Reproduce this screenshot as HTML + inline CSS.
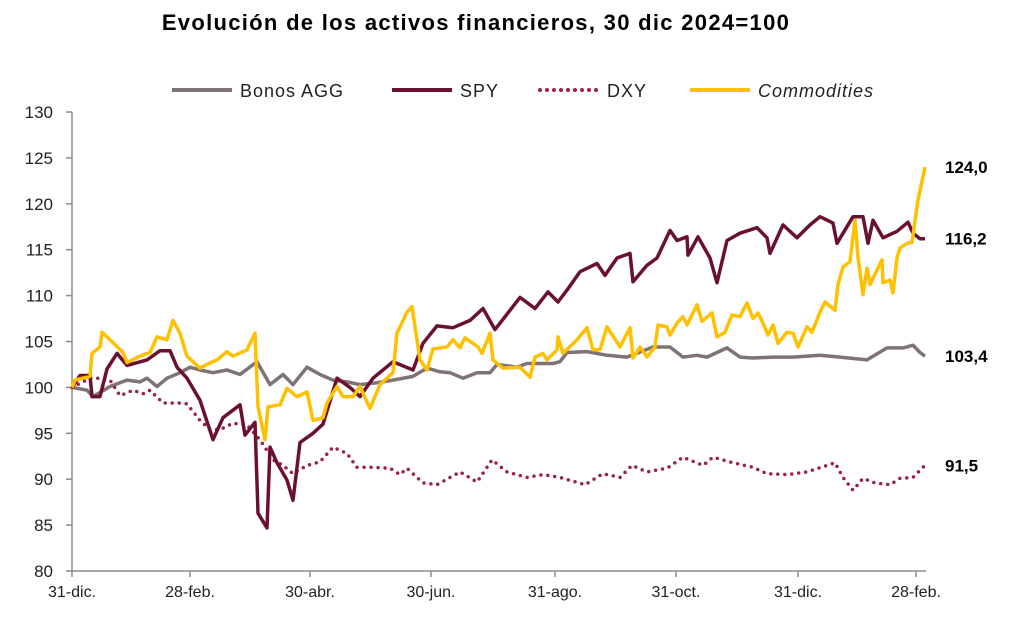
<!DOCTYPE html>
<html>
<head>
<meta charset="utf-8">
<style>
  html,body{margin:0;padding:0;background:#fff;}
  body{width:1021px;height:625px;overflow:hidden;font-family:"Liberation Sans",sans-serif;}
  svg text{font-family:"Liberation Sans",sans-serif;}
</style>
</head>
<body>
<svg id="chart" width="1021" height="625" viewBox="0 0 1021 625" xmlns="http://www.w3.org/2000/svg">
  <text x="476" y="30" text-anchor="middle" font-size="22" font-weight="bold" letter-spacing="1.3" fill="#000">Evolución de los activos financieros, 30 dic 2024=100</text>
  <g font-size="18" fill="#222" letter-spacing="1">
    <g>
      <line x1="172" y1="90" x2="232" y2="90" stroke="#7f7374" stroke-width="4"/>
      <text x="240" y="97">Bonos AGG</text>
    </g>
    <g>
      <line x1="392" y1="90" x2="452" y2="90" stroke="#6b1030" stroke-width="4"/>
      <text x="460" y="97">SPY</text>
    </g>
    <g>
      <line x1="540" y1="90" x2="600" y2="90" stroke="#9b2244" stroke-width="4" stroke-dasharray="0 7" stroke-linecap="round"/>
      <text x="607" y="97">DXY</text>
    </g>
    <g>
      <line x1="690" y1="90" x2="750" y2="90" stroke="#ffc000" stroke-width="4"/>
      <text x="758" y="97" font-style="italic">Commodities</text>
    </g>
  </g>
  <g id="axes"></g>
  <g id="series"></g>
  <g id="endlabels"></g>
</svg>
<script>
const yTicks = [80,85,90,95,100,105,110,115,120,125,130];
const xTickDays = [0,59,119,179.5,241.5,302,363,422];
const xTickLabels = ["31-dic.","28-feb.","30-abr.","30-jun.","31-ago.","31-oct.","31-dic.","28-feb."];

const spyDays = [0,4,9,10,14,17.5,22.5,27.5,37.5,44,49,52.5,57.5,64,70.5,75.5,84,86.5,91.5,93,97.5,99,102.5,107.5,110.5,114,120.5,125.5,132.5,139,144,150.5,160.5,170.5,175.5,182.5,190.5,199,205.5,211.5,219,224,231.5,238,243,247.5,254,262.5,266.5,272.5,279,280.5,287.5,292.5,299,302.5,307.5,308,313,319,322.5,327.5,334,342.5,347.5,349,355.5,362.5,369,374,380.5,382.5,390.5,395.5,398,400.5,405.5,412.5,418,420.5,424,426.5];
const spyVals = [100,101.3,101.3,99,99,102,103.7,102.4,103,104,104,102.2,101,98.6,94.3,96.7,98.1,94.8,96.2,86.3,84.7,93.5,91.8,89.9,87.7,94,95,96,101,100,99,101,102.8,101.9,104.8,106.7,106.5,107.3,108.6,106.3,108.4,109.8,108.6,110.4,109.3,110.6,112.6,113.5,112.2,114.1,114.6,111.5,113.3,114.1,117.1,116,116.4,114.4,116.4,114.1,111.4,116,116.8,117.4,116.3,114.6,117.7,116.3,117.7,118.6,117.9,115.7,118.6,118.6,115.7,118.2,116.3,117,118,116.8,116.2,116.2];

const aggDays = [0,7.5,10.5,19,27.5,34,37.5,42.5,47.5,54,59,64,70.5,77.5,84,92.5,99,105.5,110.5,117.5,124,130.5,137.5,144,152.5,160.5,170.5,177.5,184,189,195.5,202.5,209,212.5,222.5,227.5,240.5,244,247.5,257.5,267.5,277.5,290.5,299,305.5,312.5,317.5,327.5,334,340.5,350.5,360.5,374,384,397.5,407.5,415.5,420.5,424,426.5];
const aggVals = [100,99.7,99,100.1,100.8,100.6,101,100.1,101,101.6,102.2,101.9,101.6,101.9,101.4,102.8,100.3,101.4,100.3,102.2,101.4,100.8,100.6,100.3,100.5,100.8,101.2,102.1,101.7,101.6,101,101.6,101.6,102.5,102.2,102.6,102.6,102.8,103.8,103.9,103.5,103.3,104.4,104.4,103.3,103.5,103.3,104.3,103.3,103.2,103.3,103.3,103.5,103.3,103,104.3,104.3,104.6,103.8,103.4];

const dxyDays = [0,9,14,19,24,30.5,35.5,39,45.5,54,57.5,64,69,74,80.5,87.5,94,100.5,105.5,110.5,117.5,124,130.5,137.5,142.5,150.5,159,164,167.5,175.5,182.5,194,202.5,210,217.5,227.5,235.5,244,256.5,265.5,274,280,287.5,297.5,305.5,315.5,320.5,330.5,340.5,347.5,357.5,367.5,377.5,381.5,385.5,390.5,395.5,401.5,409,414,420.5,425,426.5];
const dxyVals = [100,101,101,100.8,99.1,99.7,99.3,99.7,98.3,98.3,98.2,96.4,95.4,95.4,96.1,95.9,94.3,92.1,91.5,90.6,91.5,91.9,93.5,92.8,91.3,91.3,91.2,90.5,91.2,89.6,89.4,90.8,89.7,92.1,90.8,90.2,90.5,90.2,89.4,90.6,90.2,91.5,90.8,91.2,92.4,91.5,92.4,91.8,91.3,90.6,90.5,90.8,91.5,91.8,90.2,88.8,90.1,89.6,89.4,90.1,90.2,91.2,91.5];

const comDays = [0,1.5,9,10,14,15,19,25.5,27.5,34,39,42.5,47.5,50.5,54,57.5,64,67.5,72.5,77.5,80.5,87.5,91.5,93,96.5,98,104,107.5,112.5,117.5,120.5,125.5,127.5,132.5,135.5,140.5,144,149,154,160.5,162.5,167.5,170,174,177.5,180.5,187.5,190.5,194,196.5,203,205,209,210.5,215.5,224,229,231.5,235.5,237.5,242.5,243,245.5,252.5,257.5,260.5,264,267.5,274,279,280.5,284,287.5,291.5,293,297.5,299,302.5,305.5,307.5,312.5,315,320,322.5,326.5,330,334,337.5,340.5,343,345.5,348,350.5,353,357.5,360.5,363,367.5,370,374,376.5,381.5,383,385.5,389,391.5,393,395.5,397.5,399,405,405.5,409,410.5,412.5,414,417.5,420,423,426.5];
const comVals = [100,100.8,101.2,103.7,104.4,106,105.2,103.8,102.7,103.4,103.8,105.5,105.2,107.3,105.9,103.4,102.1,102.5,103,103.9,103.4,104.1,105.9,97.9,94.3,97.9,98.1,99.9,99,99.5,96.4,96.7,98.3,100.1,99,99,100.1,97.7,100.3,101.6,105.9,108.2,108.8,103,101.9,104.2,104.4,105.2,104.3,105.4,104.4,103.7,105.9,103,102.1,102.2,101.1,103.3,103.7,103,104.1,105.5,103.7,105.2,106.5,104.1,104.1,106.6,104.4,106.5,103.2,104.4,103.3,104.4,106.8,106.6,105.7,107,107.7,106.8,109,107.2,108.1,105.5,106,107.9,107.7,109.2,107.5,108.1,107,105.7,106.8,104.8,106,105.9,104.4,106.6,106,108.2,109.3,108.4,111.2,113.1,113.7,118.2,114.2,110.1,113,111.2,113.9,111.4,111.7,110.3,114.1,115.2,115.7,115.8,120.4,124];

const endLabels = ["124,0","116,2","103,4","91,5"];
const endValues = [124,116.2,103.4,91.5];

const NS = "http://www.w3.org/2000/svg";
const X0 = 72, PXPERDAY = 2.0, Y0 = 571, YTOP = 112, VMIN = 80, VMAX = 130;
function xScale(d){ return X0 + d * PXPERDAY; }
function yScale(v){ return Y0 - (v - VMIN) / (VMAX - VMIN) * (Y0 - YTOP); }
function mk(tag, attrs){ const e = document.createElementNS(NS, tag); for (const k in attrs) e.setAttribute(k, attrs[k]); return e; }

const axes = document.getElementById('axes');
const yAxis = mk('line', {x1:X0, y1:YTOP, x2:X0, y2:Y0, stroke:'#8c8c8c', 'stroke-width':1.5});


axes.appendChild(yAxis);
const xAxis = mk('line', {x1:X0, y1:Y0, x2:926, y2:Y0, stroke:'#8c8c8c', 'stroke-width':1.5});


axes.appendChild(xAxis);

yTicks.forEach(v => {
  const y = yScale(v);
  const t = mk('line', {x1:X0-6, y1:y, x2:X0, y2:y, stroke:'#8c8c8c', 'stroke-width':1.5});
  
  
  axes.appendChild(t);
  const l = mk('text', {x:53, y:y+6, 'text-anchor':'end', 'font-size':17, fill:'#222'});
  l.textContent = v;
  
  
  axes.appendChild(l);
});
xTickDays.forEach((d, i) => {
  const x = xScale(d);
  const t = mk('line', {x1:x, y1:Y0, x2:x, y2:Y0+6, stroke:'#8c8c8c', 'stroke-width':1.5});
  
  
  axes.appendChild(t);
  const l = mk('text', {x:x, y:597, 'text-anchor':'middle', 'font-size':16, fill:'#222'});
  l.textContent = xTickLabels[i];
  
  
  axes.appendChild(l);
});

const seriesG = document.getElementById('series');
function pts(days, vals){
  const n = Math.min(days.length, vals.length);
  const out = [];
  for (let i = 0; i < n; i++) out.push(xScale(days[i]).toFixed(1) + ',' + yScale(vals[i]).toFixed(1));
  return out.join(' ');
}
const agg = mk('polyline', {points:pts(aggDays, aggVals), fill:'none', stroke:'#7f7374', 'stroke-width':3.5, 'stroke-linejoin':'round'});


seriesG.appendChild(agg);
const dxy = mk('polyline', {points:pts(dxyDays, dxyVals), fill:'none', stroke:'#9b2244', 'stroke-width':3.5, 'stroke-dasharray':'0 7', 'stroke-linecap':'round'});


seriesG.appendChild(dxy);
const spy = mk('polyline', {points:pts(spyDays, spyVals), fill:'none', stroke:'#6b1030', 'stroke-width':3.5, 'stroke-linejoin':'round'});


seriesG.appendChild(spy);
const com = mk('polyline', {points:pts(comDays, comVals), fill:'none', stroke:'#ffc000', 'stroke-width':3.5, 'stroke-linejoin':'round'});


seriesG.appendChild(com);

const endG = document.getElementById('endlabels');
endLabels.forEach((s, i) => {
  const t = mk('text', {x:945, y:yScale(endValues[i]) + 6, 'font-size':17, 'font-weight':'bold', fill:'#000'});
  t.textContent = s;
  
  
  endG.appendChild(t);
});
</script>
</body>
</html>
